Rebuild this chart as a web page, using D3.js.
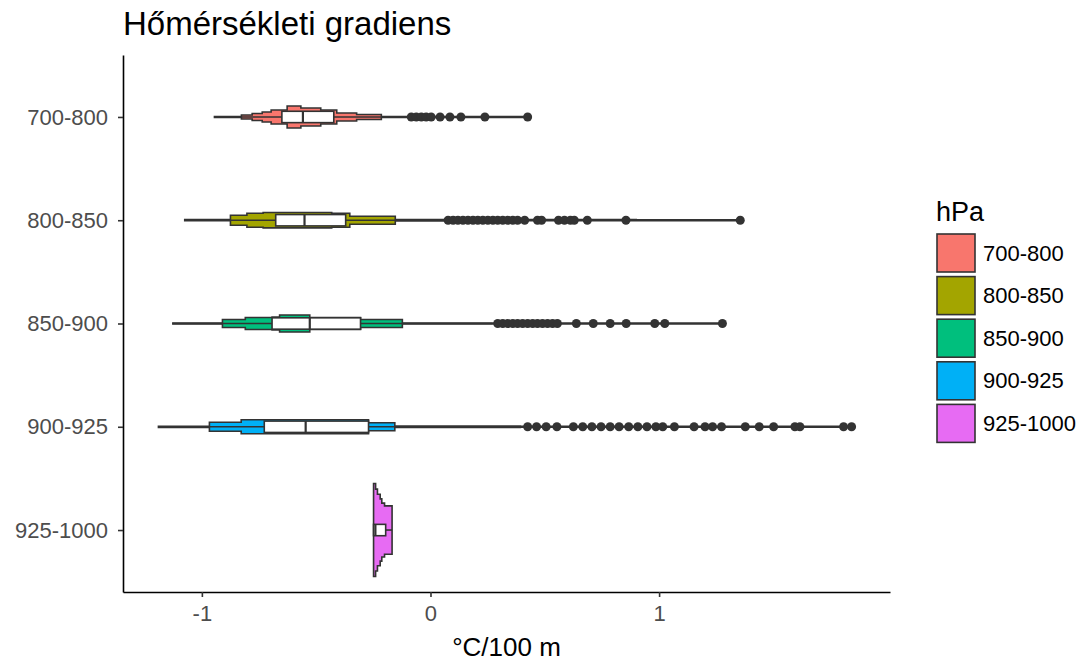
<!DOCTYPE html>
<html>
<head>
<meta charset="utf-8">
<script src="https://cdn.jsdelivr.net/npm/d3@7"></script>
<style>
  body { margin: 0; background: #fff; }
  text { font-family: "Liberation Sans", Arial, sans-serif; }
</style>
</head>
<body>
<div id="chart"></div>
<script>
// categories and colours (ggplot hue palette)
var groups = ["700-800", "800-850", "850-900", "900-925", "925-1000"];
var colors = ["#F8766D", "#A3A500", "#00BF7D", "#00B0F6", "#E76BF3"];
var xTicks = [-1, 0, 1];

// violin outlines: [value, relative half width]
var violin700 = [[-0.945, 0.01], [-0.827, 0.043], [-0.78, 0.075], [-0.736, 0.108], [-0.697, 0.15],
  [-0.627, 0.236], [-0.567, 0.194], [-0.48, 0.15], [-0.41, 0.086], [-0.323, 0.054], [-0.215, 0.008], [0.425, 0.008]];
var violin800 = [[-1.075, 0.012], [-0.875, 0.108], [-0.803, 0.15], [-0.732, 0.165], [-0.432, 0.15],
  [-0.353, 0.086], [-0.154, 0.015], [0.064, 0.012], [0.9, 0.008], [1.355, 0.008]];
var violin850 = [[-1.127, 0.012], [-0.91, 0.086], [-0.81, 0.13], [-0.693, 0.14], [-0.66, 0.183],
  [-0.528, 0.13], [-0.306, 0.086], [-0.123, 0.012], [1.277, 0.008]];
var violin900 = [[-1.19, 0.012], [-0.967, 0.097], [-0.828, 0.15], [-0.727, 0.15], [-0.271, 0.086],
  [-0.156, 0.015], [0.393, 0.01], [1.842, 0.008]];
var violin925 = [[-0.249, 1.0], [-0.24, 0.88], [-0.232, 0.77], [-0.22, 0.67], [-0.213, 0.58],
  [-0.201, 0.52], [-0.168, 0.52]];
var violins = [violin700, violin800, violin850, violin900, violin925];

// box statistics
var boxLow  = [-0.945, -1.075, -1.127, -1.19, -0.249];
var boxQ1   = [-0.65, -0.677, -0.693, -0.727, -0.249];
var boxMed  = [-0.558, -0.551, -0.528, -0.546, -0.241];
var boxQ3   = [-0.423, -0.371, -0.306, -0.271, -0.196];
var boxHigh = [-0.2, 0.03, 0.27, 0.4, -0.168];

// outliers
var out700 = [-0.084, -0.062, -0.04, -0.019, 0.003, 0.042, 0.085, 0.133, 0.238, 0.425];
var out800 = [0.077, 0.099, 0.12, 0.142, 0.164, 0.186, 0.207, 0.229, 0.251, 0.273, 0.294, 0.316,
  0.338, 0.36, 0.381, 0.412, 0.468, 0.486, 0.56, 0.586, 0.612, 0.629, 0.686, 0.855, 1.355];
var out850 = [0.294, 0.316, 0.338, 0.36, 0.381, 0.403, 0.425, 0.447, 0.468, 0.49, 0.512, 0.534,
  0.555, 0.638, 0.712, 0.786, 0.856, 0.981, 1.025, 1.277];
var out900 = [0.425, 0.464, 0.506, 0.553, 0.625, 0.666, 0.706, 0.746, 0.786, 0.825, 0.867, 0.907,
  0.947, 0.986, 1.016, 1.067, 1.153, 1.201, 1.234, 1.273, 1.377, 1.438, 1.501, 1.594, 1.616, 1.807, 1.842];
var out925 = [];
var outliers = [out700, out800, out850, out900, out925];

var width = 1087, height = 664;

var svg = d3.select("#chart").append("svg")
  .attr("width", width)
  .attr("height", height);

var x = d3.scaleLinear().domain([-1.345, 2.01]).range([123, 890]);
var y = d3.scalePoint().domain(groups).range([55, 592]).padding(0.6);
var w = d3.scaleLinear().domain([0, 1]).range([0, y.step() * 0.45]);
var boxH = y.step() * 0.055;

// violins
groups.forEach(function(g, i) {
  var cy = y(g);
  var area = d3.area()
    .x(function(d) { return x(d[0]); })
    .y0(function(d) { return cy + w(d[1]); })
    .y1(function(d) { return cy - w(d[1]); })
    .curve(d3.curveStepAfter);
  svg.append("path")
    .attr("d", area(violins[i]))
    .attr("fill", colors[i])
    .attr("stroke", "#333333")
    .attr("stroke-width", 1.6);
});

// boxplots
groups.forEach(function(g, i) {
  var cy = y(g);
  var b = svg.append("g");
  b.append("line")
    .attr("x1", x(boxLow[i])).attr("x2", x(boxQ1[i]))
    .attr("y1", cy).attr("y2", cy);
  b.append("line")
    .attr("x1", x(boxQ3[i])).attr("x2", x(boxHigh[i]))
    .attr("y1", cy).attr("y2", cy);
  b.selectAll("line").attr("stroke", "#333333").attr("stroke-width", 1.6);
  b.append("rect")
    .attr("x", x(boxQ1[i]))
    .attr("y", cy - boxH)
    .attr("width", x(boxQ3[i]) - x(boxQ1[i]))
    .attr("height", boxH * 2)
    .attr("fill", "white")
    .attr("stroke", "#333333")
    .attr("stroke-width", 1.6);
  b.append("line")
    .attr("x1", x(boxMed[i])).attr("x2", x(boxMed[i]))
    .attr("y1", cy - boxH).attr("y2", cy + boxH)
    .attr("stroke", "#333333").attr("stroke-width", 2.2);
  b.selectAll("circle").data(outliers[i])
    .enter().append("circle")
      .attr("cx", function(d) { return x(d); })
      .attr("cy", cy)
      .attr("r", 4.5)
      .attr("fill", "#333333");
});

// axes
var xAxis = svg.append("g")
  .attr("transform", "translate(0,592)")
  .call(d3.axisBottom(x).tickValues(xTicks).tickSize(5).tickSizeOuter(0).tickPadding(8)
    .tickFormat(d3.format("d")));
var yAxis = svg.append("g")
  .attr("transform", "translate(123,0)")
  .call(d3.axisLeft(y).tickSize(5).tickSizeOuter(0).tickPadding(10));

[xAxis, yAxis].forEach(function(a) {
  a.select(".domain").attr("stroke", "black").attr("stroke-width", 1.6);
  a.selectAll(".tick line").attr("stroke", "#333333").attr("stroke-width", 1.6);
  a.selectAll(".tick text")
    .attr("fill", "#4D4D4D")
    .style("font-size", "22px")
    .style("font-family", "'Liberation Sans', Arial, sans-serif");
});
xAxis.selectAll(".tick text").text(function(d) { return d < 0 ? "-" + Math.abs(d) : d; });

// titles
svg.append("text")
  .attr("x", 123).attr("y", 35)
  .style("font-size", "33px")
  .attr("fill", "black")
  .text("Hőmérsékleti gradiens");

svg.append("text")
  .attr("x", (123 + 890) / 2).attr("y", 656)
  .attr("text-anchor", "middle")
  .style("font-size", "26px")
  .attr("fill", "black")
  .text("°C/100 m");

// legend
var legend = svg.append("g").attr("transform", "translate(936,0)");
legend.append("text")
  .attr("x", 0).attr("y", 221)
  .style("font-size", "27px")
  .attr("fill", "black")
  .text("hPa");

var keys = legend.selectAll("g.key").data(groups)
  .enter().append("g")
    .attr("class", "key")
    .attr("transform", function(d, i) { return "translate(0," + (234 + i * 42.6) + ")"; });
keys.append("rect")
  .attr("x", 1).attr("y", 0)
  .attr("width", 38).attr("height", 38)
  .attr("fill", function(d, i) { return colors[i]; })
  .attr("stroke", "#333333")
  .attr("stroke-width", 1.6);
keys.append("text")
  .attr("x", 47).attr("y", 19)
  .attr("dy", "0.35em")
  .style("font-size", "22px")
  .attr("fill", "black")
  .text(function(d) { return d; });
</script>
</body>
</html>
